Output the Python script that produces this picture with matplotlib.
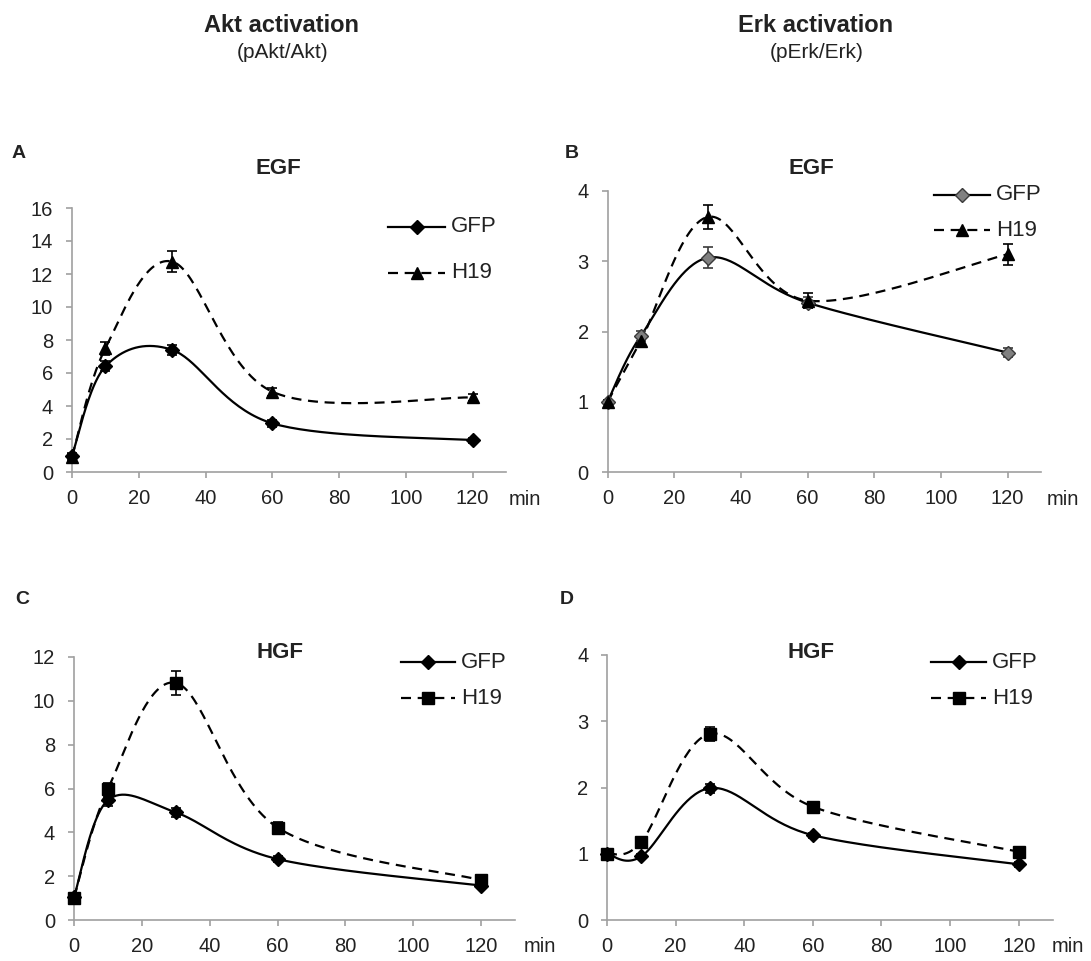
"""Akt / Erk activation time courses after EGF and HGF stimulation (GFP vs H19)."""

import matplotlib

matplotlib.use("Agg")
import matplotlib.pyplot as plt
import numpy as np
from matplotlib.lines import Line2D

plt.rcParams["font.family"] = ["Liberation Sans", "DejaVu Sans"]

W, H = 1091, 961
AXIS_GREY = "#a0a0a0"
TEXT = "#222222"

minutes = [0, 10, 30, 60, 120]
series_labels = ["GFP", "H19"]

akt_egf_gfp = [1.0, 6.4, 7.4, 2.95, 1.93]
akt_egf_gfp_err = [0.15, 0.3, 0.3, 0.2, 0.15]
akt_egf_h19 = [0.92, 7.5, 12.75, 4.87, 4.52]
akt_egf_h19_err = [0.2, 0.4, 0.65, 0.25, 0.2]

erk_egf_gfp = [1.0, 1.94, 3.05, 2.41, 1.70]
erk_egf_gfp_err = [0.03, 0.07, 0.15, 0.08, 0.06]
erk_egf_h19 = [1.0, 1.87, 3.63, 2.44, 3.10]
erk_egf_h19_err = [0.03, 0.06, 0.17, 0.11, 0.15]

akt_hgf_gfp = [1.05, 5.47, 4.91, 2.78, 1.57]
akt_hgf_gfp_err = [0.15, 0.25, 0.2, 0.15, 0.1]
akt_hgf_h19 = [1.02, 5.97, 10.82, 4.22, 1.82]
akt_hgf_h19_err = [0.15, 0.3, 0.55, 0.25, 0.15]

erk_hgf_gfp = [1.0, 0.96, 1.99, 1.28, 0.84]
erk_hgf_gfp_err = [0.03, 0.04, 0.07, 0.04, 0.04]
erk_hgf_h19 = [1.0, 1.18, 2.81, 1.71, 1.03]
erk_hgf_h19_err = [0.04, 0.06, 0.11, 0.05, 0.05]


def fx(px):
    return px / W


def fy(py):
    return 1 - py / H


def excel_smooth(x, y, n=40):
    # Bezier smoothing similar to Excel's "smoothed line" option
    pts = np.column_stack([x, y]).astype(float)
    out = [pts[:1]]
    t = np.linspace(0, 1, n)[1:, None]
    for i in range(len(pts) - 1):
        p0 = pts[max(i - 1, 0)]
        p1, p2 = pts[i], pts[i + 1]
        p3 = pts[min(i + 2, len(pts) - 1)]
        c1 = p1 + (p2 - p0) / 6
        c2 = p2 - (p3 - p1) / 6
        seg = (1 - t) ** 3 * p1 + 3 * (1 - t) ** 2 * t * c1 + 3 * (1 - t) * t ** 2 * c2 + t ** 3 * p2
        out.append(seg)
    curve = np.vstack(out)
    return curve[:, 0], curve[:, 1]


def style_axes(ax, ymax, ystep):
    ax.set_xlim(0, 130)
    ax.set_ylim(0, ymax)
    ax.set_xticks(range(0, 121, 20))
    ax.set_yticks(np.arange(0, ymax + 0.01, ystep))
    for side in ("top", "right"):
        ax.spines[side].set_visible(False)
    for side in ("left", "bottom"):
        ax.spines[side].set_color(AXIS_GREY)
        ax.spines[side].set_linewidth(1.2)
    ax.tick_params(direction="out", length=4.5, width=1.2, color=AXIS_GREY,
                   labelsize=14.5, labelcolor=TEXT)
    ax.tick_params(axis="x", pad=8)
    ax.tick_params(axis="y", pad=9)
    ax.patch.set_alpha(0)


def draw_series(ax, values, errors, ls, marker, ms, mfc="black", mec="black", ecolor="black"):
    xs, ys = excel_smooth(minutes, values)
    ax.plot(xs, ys, color="black", lw=1.6, ls=ls, zorder=2, clip_on=False)
    eb = ax.errorbar(minutes, values, yerr=errors, fmt="none", ecolor=ecolor,
                     elinewidth=1.2, capsize=3.5, capthick=1.2, zorder=3)
    for child in eb.get_children():
        child.set_clip_on(False)
    ax.plot(minutes, values, ls="none", marker=marker, ms=ms, mfc=mfc, mec=mec,
            zorder=4, clip_on=False)


def legend_row(fig, x0, x1, y, label, ls, marker, ms, mfc="black", mec="black"):
    fig.add_artist(Line2D([fx(x0), fx(x1)], [fy(y), fy(y)], transform=fig.transFigure,
                          color="black", lw=1.6, ls=ls))
    fig.add_artist(Line2D([fx((x0 + x1) / 2)], [fy(y)], transform=fig.transFigure,
                          ls="none", marker=marker, ms=ms, mfc=mfc, mec=mec))
    fig.text(fx(x1 + 6), fy(y), label, fontsize=16, va="center", ha="left", color=TEXT)


DASH = (0, (4.5, 3))

panels = [
    dict(letter="A", title="EGF", box=(72, 208, 506, 472), ymax=16, step=2,
         gfp=(akt_egf_gfp, akt_egf_gfp_err), h19=(akt_egf_h19, akt_egf_h19_err),
         h19_marker="^", h19_ms=9, legend=(388, 445, 227, 273), letter_xy=(19, 153),
         title_xy=(278, 168), min_xy=(509, 500), gfp_col=("black", "black", "black")),
    dict(letter="B", title="EGF", box=(607.6, 191, 1041, 472), ymax=4, step=1,
         gfp=(erk_egf_gfp, erk_egf_gfp_err), h19=(erk_egf_h19, erk_egf_h19_err),
         h19_marker="^", h19_ms=9, legend=(934, 990, 195, 230), letter_xy=(572, 153),
         title_xy=(811, 168), min_xy=(1047, 500), gfp_col=("#808080", "#3a3a3a", "#3a3a3a")),
    dict(letter="C", title="HGF", box=(74, 657, 515, 920), ymax=12, step=2,
         gfp=(akt_hgf_gfp, akt_hgf_gfp_err), h19=(akt_hgf_h19, akt_hgf_h19_err),
         h19_marker="s", h19_ms=8, legend=(401, 455, 662, 698), letter_xy=(22, 600),
         title_xy=(280, 652), min_xy=(524, 947), gfp_col=("black", "black", "black")),
    dict(letter="D", title="HGF", box=(607, 655, 1053, 920), ymax=4, step=1,
         gfp=(erk_hgf_gfp, erk_hgf_gfp_err), h19=(erk_hgf_h19, erk_hgf_h19_err),
         h19_marker="s", h19_ms=8, legend=(931, 986, 662, 698), letter_xy=(567, 600),
         title_xy=(811, 652), min_xy=(1052, 947), gfp_col=("black", "black", "black")),
]

fig = plt.figure(figsize=(W / 100, H / 100), dpi=100)

for p in panels:
    left, top, right, bottom = p["box"]
    ax = fig.add_axes([fx(left), fy(bottom), (right - left) / W, (bottom - top) / H])
    style_axes(ax, p["ymax"], p["step"])
    mfc, mec, ecol = p["gfp_col"]
    draw_series(ax, *p["gfp"], ls="-", marker="D", ms=7.5, mfc=mfc, mec=mec, ecolor=ecol)
    draw_series(ax, *p["h19"], ls=DASH, marker=p["h19_marker"], ms=p["h19_ms"])

    lx0, lx1, ly_gfp, ly_h19 = p["legend"]
    legend_row(fig, lx0, lx1, ly_gfp, series_labels[0], "-", "D", 7.5, mfc, mec)
    legend_row(fig, lx0, lx1, ly_h19, series_labels[1], DASH, p["h19_marker"], p["h19_ms"])

    fig.text(fx(p["title_xy"][0]), fy(p["title_xy"][1]), p["title"], fontsize=16,
             fontweight="bold", ha="center", va="center", color=TEXT)
    fig.text(fx(p["letter_xy"][0]), fy(p["letter_xy"][1]), p["letter"], fontsize=14,
             fontweight="bold", ha="center", va="center", color=TEXT)
    fig.text(fx(p["min_xy"][0]), fy(p["min_xy"][1]), "min", fontsize=14.5,
             ha="left", va="center", color=TEXT)

fig.text(fx(282), fy(25), "Akt activation", fontsize=17, fontweight="bold",
         ha="center", va="center", color=TEXT)
fig.text(fx(283), fy(53), "(pAkt/Akt)", fontsize=15, ha="center", va="center", color=TEXT)
fig.text(fx(816), fy(25), "Erk activation", fontsize=17, fontweight="bold",
         ha="center", va="center", color=TEXT)
fig.text(fx(817), fy(53), "(pErk/Erk)", fontsize=15, ha="center", va="center", color=TEXT)

fig.savefig("out.png", dpi=100)
plt.close(fig)
